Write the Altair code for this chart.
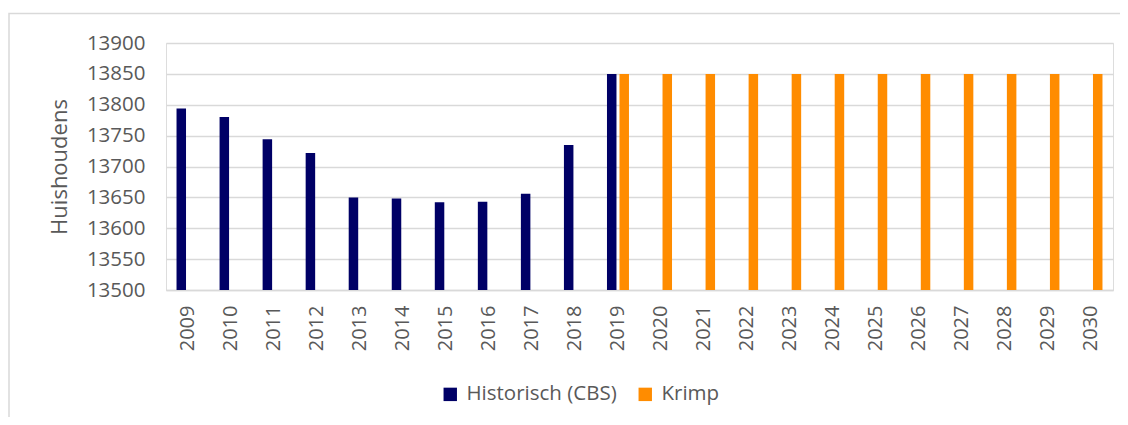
import altair as alt
import pandas as pd

years = [str(y) for y in range(2009, 2031)]
hist_years = [str(y) for y in range(2009, 2020)]
hist_values = [13794, 13780, 13744, 13722, 13650, 13648, 13642, 13643, 13656, 13735, 13850]
krimp_years = [str(y) for y in range(2019, 2031)]
krimp_values = [13850] * 12
series_names = ["Historisch (CBS)", "Krimp"]
series_colors = ["#000066", "#FF8C00"]
y_ticks = list(range(13500, 13901, 50))

rows = [{"year": y, "series": series_names[0], "value": v} for y, v in zip(hist_years, hist_values)]
rows += [{"year": y, "series": series_names[1], "value": v} for y, v in zip(krimp_years, krimp_values)]
df = pd.DataFrame(rows)

FONT = "Open Sans"
GRAY = "#595959"

bars = alt.Chart(df).mark_bar().encode(
    x=alt.X("year:N", sort=years,
            scale=alt.Scale(domain=years, paddingInner=0.489, paddingOuter=0.2445),
            axis=alt.Axis(title=None, labelAngle=-90, labelFontSize=20, labelColor=GRAY,
                          labelFont=FONT, ticks=False, tickSize=0, labelPadding=15,
                          domainColor="#D9D9D9", domainWidth=1.5, grid=False)),
    xOffset=alt.XOffset("series:N", scale=alt.Scale(domain=series_names, paddingInner=0.24)),
    y=alt.Y("value:Q",
            scale=alt.Scale(domain=[13500, 13900], zero=False, nice=False),
            axis=alt.Axis(title="Huishoudens", values=y_ticks, format="d", labelFontSize=20.5,
                          labelColor=GRAY, labelFont=FONT, titleFont=FONT, titleFontSize=22,
                          titleColor=GRAY, titleFontWeight="normal", titlePadding=15,
                          labelPadding=21, ticks=False, domain=False,
                          gridColor="#D9D9D9", gridWidth=1.5)),
    y2=alt.datum(13500),
    color=alt.Color("series:N",
                    scale=alt.Scale(domain=series_names, range=series_colors),
                    legend=alt.Legend(title=None, orient="none", direction="horizontal",
                                      legendX=274, legendY=341, symbolType="square",
                                      symbolSize=180, symbolStrokeWidth=0, labelFontSize=20.5,
                                      labelColor=GRAY, labelFont=FONT, labelOffset=6,
                                      columnPadding=18, symbolOpacity=1)),
)

frame = alt.Chart(pd.DataFrame({"a": [1]})).mark_rect(
    fill=None, stroke="#D9D9D9", strokeWidth=1.5, clip=False
).encode(
    x=alt.value(-157), x2=alt.value(1300),
    y=alt.value(-29.5), y2=alt.value(700),
)

chart = alt.layer(frame, bars).properties(
    width=947, height=247,
    autosize=alt.AutoSizeParams(type="none"),
    padding={"left": 158, "top": 35, "right": 7, "bottom": 127},
).configure_view(stroke=None).configure(background="white")

chart.save("out.html", embed_options={"renderer": "svg", "actions": False})
